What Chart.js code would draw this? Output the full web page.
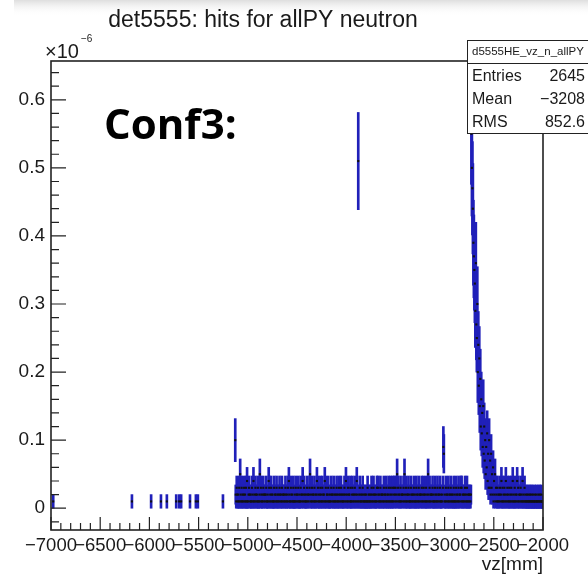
<!DOCTYPE html>
<html>
<head>
<meta charset="utf-8">
<script src="https://cdn.jsdelivr.net/npm/chart.js@4.4.0/dist/chart.umd.min.js"></script>
<style>
  html, body { margin: 0; padding: 0; background: #fff; }
  #wrap { width: 588px; height: 577px; position: relative; }
</style>
</head>
<body>
<div id="wrap"><canvas id="hist"></canvas></div>
<script>
// histogram of vz (mm), y in units of 10^-6
var xTicks = [-7000, -6500, -6000, -5500, -5000, -4500, -4000, -3500, -3000, -2500, -2000];
var yTicks = [0, 0.1, 0.2, 0.3, 0.4, 0.5, 0.6];
var binWidth = 5;
var entryWeight = 0.01;

// isolated bins on the left (bin centres, entries)
var sparseVz = [-6977.5, -6177.5, -5982.5, -5882.5, -5822.5, -5727.5, -5697.5, -5677.5, -5587.5, -5527.5, -5507.5, -5252.5];
var sparseCounts = [1, 1, 1, 1, 1, 1, 1, 1, 1, 1, 1, 1];

// contiguous 5 mm bins from -5130 mm up to -2000 mm
var denseStart = -5130;
var denseCounts = [
  10,2,1,3,2,1,2,1,3,1,5,2,1,3,1,2,1,2,3,1,
  2,1,3,1,4,1,1,2,3,2,1,2,1,1,3,2,1,4,1,2,
  1,3,2,1,2,1,3,1,1,2,5,1,3,2,1,1,2,3,1,2,
  2,1,2,3,1,1,2,1,4,3,1,2,1,3,2,1,2,1,1,3,
  1,2,2,1,3,1,2,1,2,1,3,2,1,2,1,3,1,2,2,1,
  2,1,3,2,1,1,2,3,1,4,2,1,1,3,2,1,2,1,3,1,
  1,2,1,3,1,2,2,1,3,1,2,1,1,3,2,1,2,4,1,2,
  3,1,2,1,1,2,3,1,2,1,2,3,5,1,2,1,3,1,2,2,
  1,3,1,2,1,2,4,1,3,2,1,1,2,3,1,2,1,3,1,2,
  2,1,4,1,3,1,2,2,1,3,1,2,1,1,2,3,1,2,2,1,
  3,1,2,1,2,1,3,2,1,1,2,3,1,2,1,3,2,1,2,1,
  1,2,3,1,2,4,1,2,1,3,1,2,2,1,3,1,1,2,3,1,
  2,1,2,3,1,2,1,4,2,1,51,1,2,3,1,2,1,1,2,3,
  1,2,1,1,2,1,2,1,1,3,1,2,1,2,1,1,2,3,1,2,
  1,3,2,1,2,1,1,2,3,1,3,2,1,2,1,3,1,2,2,1,
  2,1,3,1,2,2,1,3,1,2,1,2,3,1,1,2,3,1,2,1,
  3,1,2,3,1,2,3,1,2,5,1,3,2,1,2,1,3,1,2,2,
  1,2,3,1,5,2,1,3,1,2,1,2,3,1,2,1,1,3,2,1,
  2,1,2,3,1,2,1,1,3,2,1,2,1,3,1,2,2,1,2,3,
  1,2,1,3,2,1,2,1,3,1,2,1,5,2,1,3,1,2,2,1,
  2,3,1,2,1,1,3,2,1,2,1,3,1,2,2,1,3,1,2,1,
  1,2,3,9,8,1,2,1,3,1,2,2,1,3,1,2,1,2,3,1,
  2,1,2,1,3,1,2,1,1,3,2,1,2,1,3,1,2,2,1,3,
  3,1,2,1,2,1,2,3,1,2,1,3,1,2,1,2,1,2,1,2,
  55,50,47,44,39,37,35,33,29,36,27,25,30,20,24,18,22,15,19,12,
  16,11,14,9,15,8,12,7,10,5,9,6,11,4,8,3,10,3,7,2,
  8,3,5,2,6,1,4,2,5,1,3,2,1,3,1,2,1,2,3,1,
  2,4,1,3,1,2,1,3,2,1,4,1,2,3,1,2,1,3,1,2,
  1,3,2,1,4,1,2,1,3,1,2,1,2,4,1,3,1,2,1,2,
  3,1,2,1,4,1,2,1,3,1,2,1,1,2,1,1,2,1,1,2,
  1,1,2,1,1,2,1,1,1,2,1,1,2,1,1,1,2,1,1,2,
  1,1,2,1,1,1
];

var statsName = 'd5555HE_vz_n_allPY';
var statsLabels = ['Entries', 'Mean', 'RMS'];
var statsValues = ['2645', '\u22123208', '852.6'];

var points = [];
var errBars = [];
function addBin(x, n) {
  var v = n * entryWeight, e = Math.sqrt(n) * entryWeight;
  points.push({x: x, y: v});
  errBars.push({x: x, y: [v - e, v + e]});
}
for (var i = 0; i < sparseVz.length; i++) addBin(sparseVz[i], sparseCounts[i]);
for (var k = 0; k < denseCounts.length; k++) addBin(denseStart + (k + 0.5) * binWidth, denseCounts[k]);

var FONT = "'Liberation Sans', Arial, sans-serif";
Chart.defaults.font.family = FONT;

function fmtX(v) { return v < 0 ? '\u2212' + Math.abs(v) : String(v); }

var rootDecor = {
  id: 'rootDecor',
  beforeDraw: function(chart) {
    var ctx = chart.ctx;
    ctx.save();
    ctx.fillStyle = '#fff';
    ctx.fillRect(0, 0, chart.width, chart.height);
    var g = ctx.createLinearGradient(0, 0, 0, 16);
    g.addColorStop(0, '#dedede');
    g.addColorStop(1, 'rgba(255,255,255,0)');
    ctx.fillStyle = g;
    ctx.fillRect(14, 0, chart.width - 14, 16);
    ctx.restore();
  },
  afterDatasetsDraw: function(chart) {
    var ctx = chart.ctx, a = chart.chartArea, xs = chart.scales.x, ys = chart.scales.y;
    ctx.save();
    ctx.strokeStyle = '#222';
    ctx.lineWidth = 1.2;
    ctx.beginPath();
    for (var v = -7000; v <= -2000; v += 100) {
      var px = xs.getPixelForValue(v);
      var len = (v % 500 === 0) ? 13 : 7;
      ctx.moveTo(px, a.bottom); ctx.lineTo(px, a.bottom - len);
    }
    for (var j = -1; j <= 32; j++) {
      var yv = j * 0.02;
      var py = ys.getPixelForValue(yv);
      if (py < a.top) continue;
      var ylen = (j % 5 === 0) ? 15 : 8;
      ctx.moveTo(a.left, py); ctx.lineTo(a.left + ylen, py);
    }
    ctx.stroke();
    ctx.lineWidth = 1.6;
    ctx.strokeRect(a.left, a.top, a.right - a.left, a.bottom - a.top);
    ctx.restore();
  },
  afterDraw: function(chart) {
    var ctx = chart.ctx, a = chart.chartArea;
    ctx.save();
    ctx.fillStyle = '#1a1a1a';
    // title
    ctx.font = '23px ' + FONT;
    ctx.textAlign = 'center'; ctx.textBaseline = 'middle';
    ctx.fillText('det5555: hits for allPY neutron', 263, 21);
    // exponent
    ctx.textAlign = 'left'; ctx.textBaseline = 'alphabetic';
    ctx.font = '20px ' + FONT;
    ctx.fillText('\u00d710', 45, 58);
    ctx.font = '10px ' + FONT;
    ctx.fillText('\u22126', 81, 42);
    // axis title
    ctx.font = '19px ' + FONT;
    ctx.textAlign = 'right';
    ctx.fillText('vz[mm]', a.right, 570);
    // overlay label
    ctx.fillStyle = '#000';
    ctx.textAlign = 'left';
    ctx.font = "bold 42px 'Open Sans', sans-serif";
    ctx.fillText('Conf3:', 104, 139);
    // stats box
    var bx = 467.5, by = 40.5, bw = 140, bh = 93;
    ctx.fillStyle = '#fff';
    ctx.fillRect(bx, by, bw, bh);
    ctx.strokeStyle = '#222'; ctx.lineWidth = 1;
    ctx.strokeRect(bx, by, bw, bh);
    ctx.beginPath(); ctx.moveTo(bx, 63.5); ctx.lineTo(bx + bw, 63.5); ctx.stroke();
    ctx.fillStyle = '#1a1a1a';
    ctx.font = '11.5px ' + FONT;
    ctx.textBaseline = 'middle';
    ctx.fillText(statsName, 472, 52);
    ctx.font = '16px ' + FONT;
    for (var r = 0; r < statsLabels.length; r++) {
      var ry = 77 + r * 23;
      ctx.textAlign = 'left';
      ctx.fillText(statsLabels[r], 472, ry);
      ctx.textAlign = 'right';
      ctx.fillText(statsValues[r], 585, ry);
    }
    ctx.restore();
  }
};

new Chart(document.getElementById('hist'), {
  type: 'bar',
  data: {
    datasets: [
      {
        type: 'line',
        data: points,
        showLine: false,
        pointStyle: 'rect',
        pointRadius: 1.5,
        pointBorderWidth: 0,
        pointBackgroundColor: '#111',
        order: 0
      },
      {
        type: 'bar',
        data: errBars,
        backgroundColor: 'rgb(32,32,185)',
        borderWidth: 0,
        barThickness: 2,
        grouped: false,
        order: 1
      }
    ]
  },
  options: {
    responsive: true,
    maintainAspectRatio: false,
    animation: false,
    events: [],
    layout: { padding: { top: 61, right: 45, left: 0, bottom: 0 } },
    plugins: { legend: { display: false }, tooltip: { enabled: false }, title: { display: false } },
    scales: {
      x: {
        type: 'linear',
        min: -7000, max: -2000,
        offset: false,
        grid: { display: false, drawTicks: false },
        border: { display: false },
        afterBuildTicks: function(s) { s.ticks = xTicks.map(function(v) { return {value: v}; }); },
        afterFit: function(s) { s.height = 47; },
        ticks: {
          autoSkip: false, maxRotation: 0, minRotation: 0, padding: 5,
          color: '#1a1a1a', font: { size: 18.5 },
          callback: function(v) { return fmtX(v); }
        }
      },
      y: {
        type: 'linear',
        min: -0.032, max: 0.657,
        grid: { display: false, drawTicks: false },
        border: { display: false },
        afterBuildTicks: function(s) { s.ticks = yTicks.map(function(v) { return {value: v}; }); },
        afterFit: function(s) { s.width = 51; },
        ticks: {
          padding: 6, color: '#1a1a1a', font: { size: 19 },
          callback: function(v) { return v === 0 ? '0' : v.toFixed(1); }
        }
      }
    }
  },
  plugins: [rootDecor]
});
</script>
</body>
</html>
